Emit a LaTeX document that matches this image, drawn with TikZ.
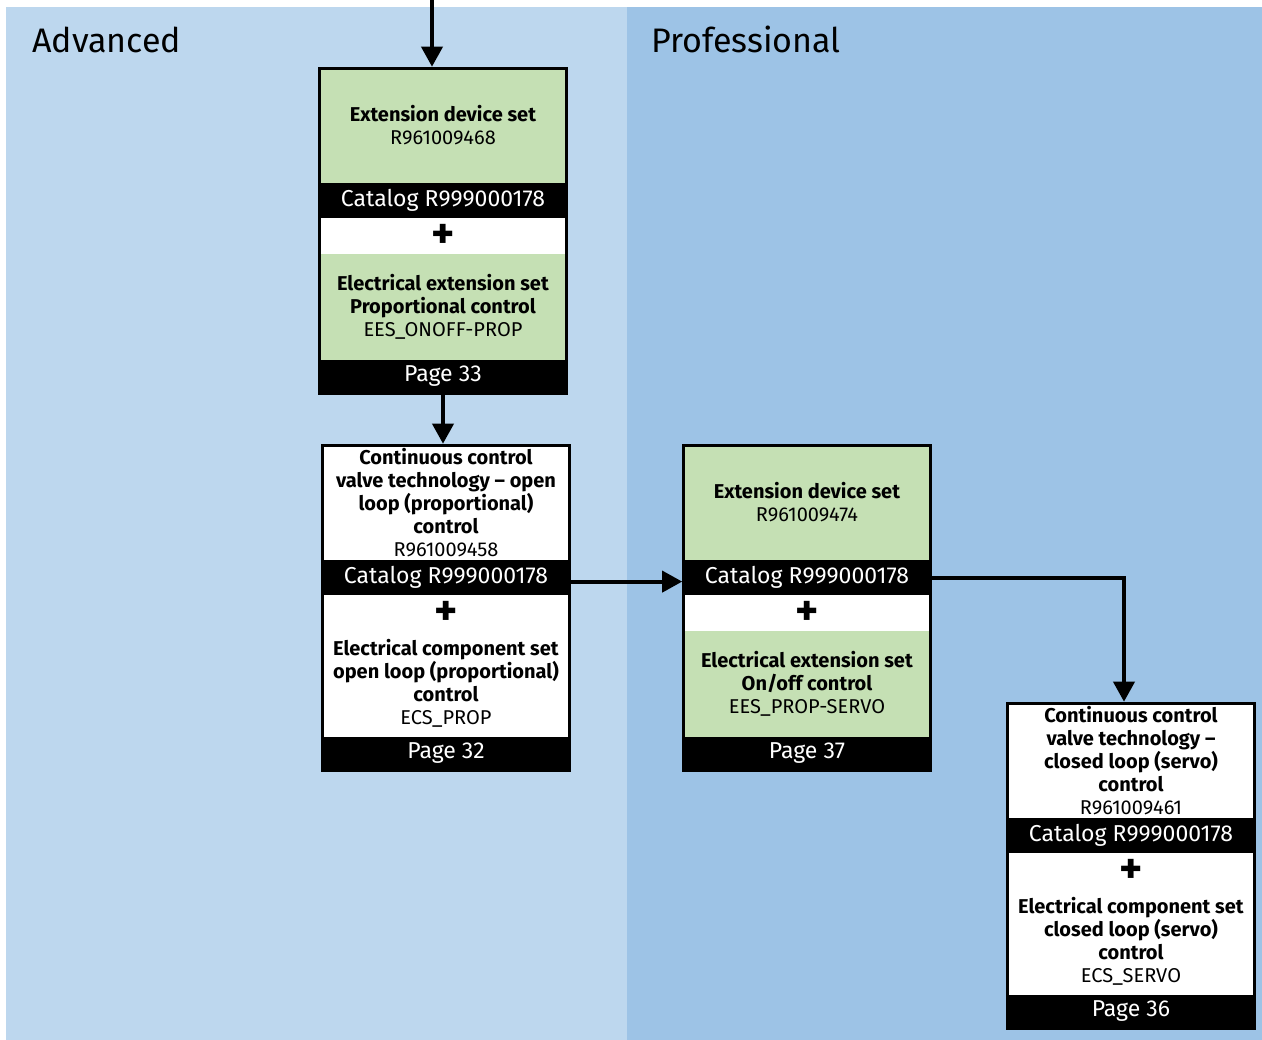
\documentclass[tikz,border=0pt]{standalone}
\usepackage{fontspec}
\setmainfont{Fira Sans}
\usepackage{tikz}
\usetikzlibrary{fit}
\usetikzlibrary{positioning}
\usetikzlibrary{arrows.meta}
\usepackage{xcolor}
\definecolor{ColAdv}{RGB}{189,215,238}
\definecolor{ColPro}{RGB}{157,195,230}
\definecolor{ColSet}{RGB}{197,224,180}
\tikzstyle{PartBox}=[inner sep=0pt,minimum width=246pt,align=center,line width=.6pt,
font=\fontsize{20}{23}\selectfont]
\tikzstyle{WhitePart}=[fill=white,draw=white]
\tikzstyle{GreenPart}=[fill=ColSet,draw=ColSet]
\tikzstyle{UpperPart}=[PartBox,WhitePart,minimum height=114pt]
\tikzstyle{LowerPart}=[PartBox,WhitePart,minimum height=105pt]
\tikzstyle{CatalogBand}=[PartBox,fill=black,draw=black,text=white,minimum height=35pt,
font=\fontsize{23}{23}\selectfont]
\tikzstyle{PageBand}=[CatalogBand,minimum height=33pt]
\tikzstyle{PlusBand}=[PartBox,WhitePart,minimum height=35pt,font=\fontsize{44}{44}\bfseries]
\tikzstyle{FrameBox}=[draw=black,line width=3pt,inner sep=0pt]
\tikzstyle{FlowArrow}=[line width=3.8pt,-{Triangle[length=20pt,width=21pt]}]
\tikzstyle{PanelTitle}=[anchor=base west,inner sep=0pt,font=\fontsize{34}{34}\selectfont]

\begin{document}
\begin{tikzpicture}[x=1pt,y=-1pt]
        \useasboundingbox(0,0)rectangle(1262,1040);
        % panels
        \fill[white](0,0)rectangle(1262,1040);
        \fill[ColAdv](6,7)rectangle(627,1040);
        \fill[ColPro](627,7)rectangle(1262,1040);
        \node[PanelTitle](advTitle)at(32,53){Advanced};
        \node[PanelTitle](proTitle)at(651,53){Professional};
        % extension device set, proportional
        \node[UpperPart,GreenPart](devA)at(443,125.5){\textbf{Extension device set}\\R961009468};
        \node[CatalogBand,below=0pt of devA](catA){Catalog R999000178};
        \node[PlusBand,below=0pt of catA](plusA){+};
        \node[LowerPart,GreenPart,below=0pt of plusA](elecA){\textbf{Electrical extension set}\\\textbf{Proportional control}\\EES\_ONOFF-PROP};
        \node[PageBand,below=0pt of elecA](pageA){Page 33};
        \node[FrameBox,fit=(devA)(pageA)](boxA){};
        % open loop valve technology
        \node[UpperPart](devB)at(446,502.5){\textbf{Continuous control}\\\textbf{valve technology -- open}\\\textbf{loop (proportional)}\\\textbf{control}\\R961009458};
        \node[CatalogBand,below=0pt of devB](catB){Catalog R999000178};
        \node[PlusBand,below=0pt of catB](plusB){+};
        \node[LowerPart,below=0pt of plusB](elecB){\textbf{Electrical component set}\\\textbf{open loop (proportional)}\\\textbf{control}\\ECS\_PROP};
        \node[PageBand,below=0pt of elecB](pageB){Page 32};
        \node[FrameBox,fit=(devB)(pageB)](boxB){};
        % extension device set, servo
        \node[UpperPart,GreenPart](devC)at(807,502.5){\textbf{Extension device set}\\R961009474};
        \node[CatalogBand,below=0pt of devC](catC){Catalog R999000178};
        \node[PlusBand,below=0pt of catC](plusC){+};
        \node[LowerPart,GreenPart,below=0pt of plusC](elecC){\textbf{Electrical extension set}\\\textbf{On/off control}\\EES\_PROP-SERVO};
        \node[PageBand,below=0pt of elecC](pageC){Page 37};
        \node[FrameBox,fit=(devC)(pageC)](boxC){};
        % closed loop valve technology
        \node[UpperPart](devD)at(1131,760.5){\textbf{Continuous control}\\\textbf{valve technology --}\\\textbf{closed loop (servo)}\\\textbf{control}\\R961009461};
        \node[CatalogBand,below=0pt of devD](catD){Catalog R999000178};
        \node[PlusBand,below=0pt of catD](plusD){+};
        \node[LowerPart,below=0pt of plusD](elecD){\textbf{Electrical component set}\\\textbf{closed loop (servo)}\\\textbf{control}\\ECS\_SERVO};
        \node[PageBand,below=0pt of elecD](pageD){Page 36};
        \node[FrameBox,fit=(devD)(pageD)](boxD){};
        % flow
        \coordinate(entry)at(432,0);
        \coordinate(outB)at([yshift=-4pt]catB.east);
        \coordinate(bendD)at([xshift=-7pt]boxD.north);
        \draw[FlowArrow](entry)--(entry|-boxA.north);
        \draw[FlowArrow](boxA.south)--(boxA.south|-boxB.north);
        \draw[FlowArrow](outB)--(outB-|boxC.west);
        \draw[FlowArrow](catC.east-|boxC.east)-|(bendD);
    \end{tikzpicture}
\end{document}
